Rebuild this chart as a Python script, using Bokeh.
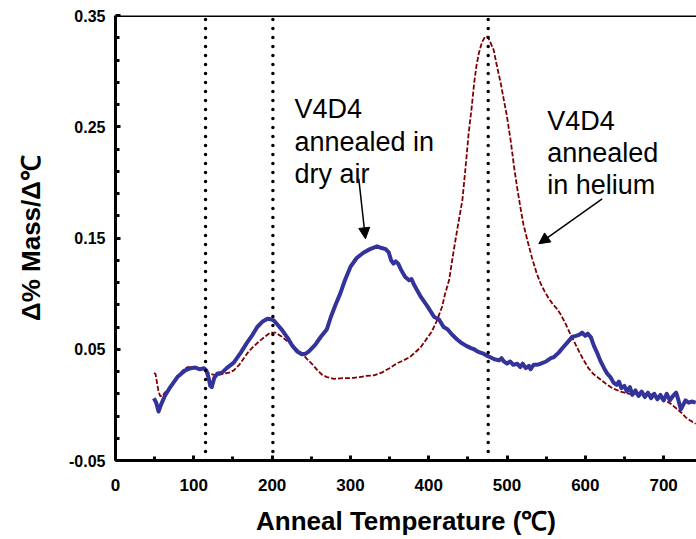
from bokeh.plotting import figure
from bokeh.models import (Range1d, FixedTicker, NumeralTickFormatter, Span,
                          Label, Arrow, NormalHead, ColumnDataSource)
from bokeh.embed import file_html
from bokeh.resources import INLINE

# Derivative of mass loss vs. anneal temperature, V4D4 film
air_temp = [49, 52, 55, 58, 63, 70, 79, 89, 96, 102, 108, 113, 116, 119, 121, 123,
            126, 130, 136, 142, 151, 160, 168, 175, 181, 188, 194, 198, 202, 207,
            213, 220, 226, 232, 238, 243, 247, 255, 262, 270, 275, 281, 287, 293,
            300, 308, 317, 325, 334, 340, 345, 349, 352, 355, 358, 361, 365, 370,
            375, 378, 382, 390, 398, 407, 413, 419, 424, 430, 436, 441, 448, 454,
            458, 462, 466, 470, 475, 478, 484, 490, 493, 496, 500, 504, 508, 513,
            517, 520, 524, 528, 530, 534, 538, 543, 550, 556, 560, 566, 572, 577,
            583, 588, 592, 596, 600, 603, 607, 611, 615, 619, 624, 628, 632, 636,
            640, 643, 646, 650, 653, 657, 660, 664, 668, 672, 676, 680, 684, 688,
            692, 696, 700, 704, 708, 712, 716, 719, 722, 725, 728, 732, 736, 741]
air_rate = [0.006, 0.002, -0.006, 0.000, 0.008, 0.016, 0.025, 0.031, 0.033, 0.0335,
            0.032, 0.033, 0.031, 0.024, 0.017, 0.016, 0.024, 0.028, 0.029, 0.033,
            0.038, 0.047, 0.056, 0.063, 0.070, 0.075, 0.0775, 0.077, 0.076, 0.072,
            0.067, 0.060, 0.053, 0.048, 0.0455, 0.046, 0.048, 0.054, 0.061, 0.068,
            0.079, 0.090, 0.100, 0.112, 0.124, 0.132, 0.137, 0.140, 0.1425, 0.141,
            0.140, 0.137, 0.130, 0.127, 0.129, 0.127, 0.121, 0.115, 0.112, 0.113,
            0.107, 0.097, 0.089, 0.079, 0.077, 0.070, 0.068, 0.063, 0.059, 0.056,
            0.053, 0.051, 0.050, 0.048, 0.047, 0.046, 0.044, 0.043, 0.041, 0.040,
            0.042, 0.039, 0.037, 0.039, 0.036, 0.037, 0.034, 0.037, 0.033, 0.035,
            0.032, 0.036, 0.036, 0.037, 0.039, 0.042, 0.043, 0.047, 0.052, 0.056,
            0.061, 0.062, 0.063, 0.065, 0.062, 0.064, 0.061, 0.053, 0.047, 0.040,
            0.033, 0.028, 0.025, 0.020, 0.018, 0.021, 0.015, 0.017, 0.012, 0.016,
            0.009, 0.013, 0.008, 0.012, 0.007, 0.011, 0.006, 0.010, 0.005, 0.009,
            0.004, 0.010, 0.004, 0.008, 0.011, 0.004, -0.004, 0.000, 0.004, 0.002,
            0.003, 0.002]

he_temp = [49, 51, 53, 55, 57, 60, 63, 66, 72, 80, 86, 92, 100, 108, 115, 120, 126,
           132, 138, 145, 151, 158, 164, 170, 177, 185, 192, 198, 204, 211, 218,
           224, 230, 237, 245, 252, 258, 264, 270, 279, 290, 298, 304, 312, 320,
           330, 340, 350, 360, 368, 376, 384, 390, 398, 404, 410, 417, 421, 426,
           432, 437, 443, 447, 451, 455, 458, 461, 464, 468, 472, 475, 478, 483,
           487, 492, 496, 500, 505, 509, 513, 517, 521, 526, 532, 538, 543, 548,
           553, 558, 563, 568, 574, 580, 585, 592, 598, 604, 610, 619, 628, 636,
           645, 655, 662, 670, 678, 687, 695, 702, 709, 716, 722, 728, 734, 741]
he_rate = [0.0285, 0.028, 0.020, 0.012, 0.008, 0.008, 0.011, 0.013, 0.018, 0.026,
           0.031, 0.034, 0.034, 0.033, 0.031, 0.028, 0.027, 0.027, 0.028, 0.029,
           0.031, 0.036, 0.042, 0.048, 0.053, 0.058, 0.062, 0.065, 0.065, 0.062,
           0.058, 0.055, 0.051, 0.047, 0.041, 0.036, 0.031, 0.027, 0.025, 0.0234,
           0.024, 0.024, 0.0243, 0.025, 0.026, 0.0265, 0.029, 0.033, 0.0375, 0.040,
           0.043, 0.048, 0.052, 0.060, 0.066, 0.075, 0.088, 0.100, 0.112, 0.139,
           0.160, 0.184, 0.213, 0.244, 0.268, 0.289, 0.305, 0.316, 0.326, 0.331,
           0.331, 0.327, 0.319, 0.305, 0.289, 0.274, 0.259, 0.236, 0.214, 0.195,
           0.178, 0.162, 0.148, 0.132, 0.118, 0.109, 0.102, 0.096, 0.091, 0.087,
           0.082, 0.074, 0.065, 0.058, 0.048, 0.040, 0.033, 0.028, 0.023, 0.018,
           0.0145, 0.012, 0.010, 0.010, 0.010, 0.0095, 0.0095, 0.006, 0.004, 0.001,
           -0.003, -0.0066, -0.011, -0.014, -0.017]

# Reference temperatures marked with dotted verticals
marker_temps = [115, 201, 476]

x_major = [0, 100, 200, 300, 400, 500, 600, 700]
x_minor = [50, 150, 250, 350, 450, 550, 650]
y_major = [-0.05, 0.05, 0.15, 0.25, 0.35]
y_minor = [-0.03, -0.01, 0.01, 0.03, 0.07, 0.09, 0.11, 0.13, 0.17, 0.19, 0.21,
           0.23, 0.27, 0.29, 0.31, 0.33]

FONT = "Liberation Sans"

p = figure(width=696, height=539, x_range=Range1d(0, 742), y_range=Range1d(-0.05, 0.35),
           output_backend="svg", toolbar_location=None,
           min_border_left=115, min_border_right=0, min_border_top=15, min_border_bottom=79,
           x_axis_label="Anneal Temperature (\u2103)",
           y_axis_label="\u0394% Mass/\u0394\u2103")
p.grid.visible = False
p.outline_line_color = None
p.background_fill_color = "white"
p.border_fill_color = "white"

for ax, major, minor, size, standoff, title_off in (
        (p.xaxis[0], x_major, x_minor, "17px", 18, 12),
        (p.yaxis[0], y_major, y_minor, "16px", 10, 20)):
    ax.ticker = FixedTicker(ticks=major, minor_ticks=minor)
    ax.axis_line_width = 3
    ax.axis_line_color = "black"
    ax.major_tick_in = 5
    ax.major_tick_out = 0
    ax.minor_tick_in = 4
    ax.minor_tick_out = 0
    ax.major_tick_line_width = 3
    ax.minor_tick_line_width = 3
    ax.major_tick_line_color = "black"
    ax.minor_tick_line_color = "black"
    ax.major_label_text_font = FONT
    ax.major_label_text_font_style = "bold"
    ax.major_label_text_font_size = size
    ax.major_label_text_color = "black"
    ax.major_label_standoff = standoff
    ax.axis_label_text_font = FONT
    ax.axis_label_text_font_style = "bold"
    ax.axis_label_text_font_size = "26px"
    ax.axis_label_text_color = "black"
    ax.axis_label_standoff = title_off
p.yaxis[0].formatter = NumeralTickFormatter(format="0.00")

# Top frame edge
p.add_layout(Span(location=0.35, dimension="width", line_color="black", line_width=3))

he_src = ColumnDataSource(dict(x=he_temp, y=he_rate))
air_src = ColumnDataSource(dict(x=air_temp, y=air_rate))

p.line("x", "y", source=he_src, line_color="#800000", line_width=1.8, line_dash="5 2")
p.line("x", "y", source=air_src, line_color="#333399", line_width=4, line_join="round")

p.segment(x0=marker_temps, y0=[-0.05] * 3, x1=marker_temps, y1=[0.35] * 3,
          line_color="black", line_width=3.5, line_dash="0 9", line_cap="round")

# Annotations
def add_lines(lines, x, ys):
    for txt, yy in zip(lines, ys):
        p.add_layout(Label(x=x, y=yy, text=txt, text_font=FONT, text_font_size="27px",
                           text_color="black", text_baseline="alphabetic"))

add_lines(["V4D4", "annealed in", "dry air"], 228.6, [0.2661, 0.2361, 0.2077])
add_lines(["V4D4", "annealed", "in helium"], 551.3, [0.2556, 0.2260, 0.1972])

p.add_layout(Arrow(end=NormalHead(size=11, fill_color="black", line_color="black"),
                   x_start=310.7, y_start=0.2032, x_end=319.2, y_end=0.1493,
                   line_color="black", line_width=1.5))
p.add_layout(Arrow(end=NormalHead(size=11, fill_color="black", line_color="black"),
                   x_start=621.5, y_start=0.1852, x_end=540.6, y_end=0.1448,
                   line_color="black", line_width=1.5))

open("out.html", "w").write(file_html(p, INLINE))
